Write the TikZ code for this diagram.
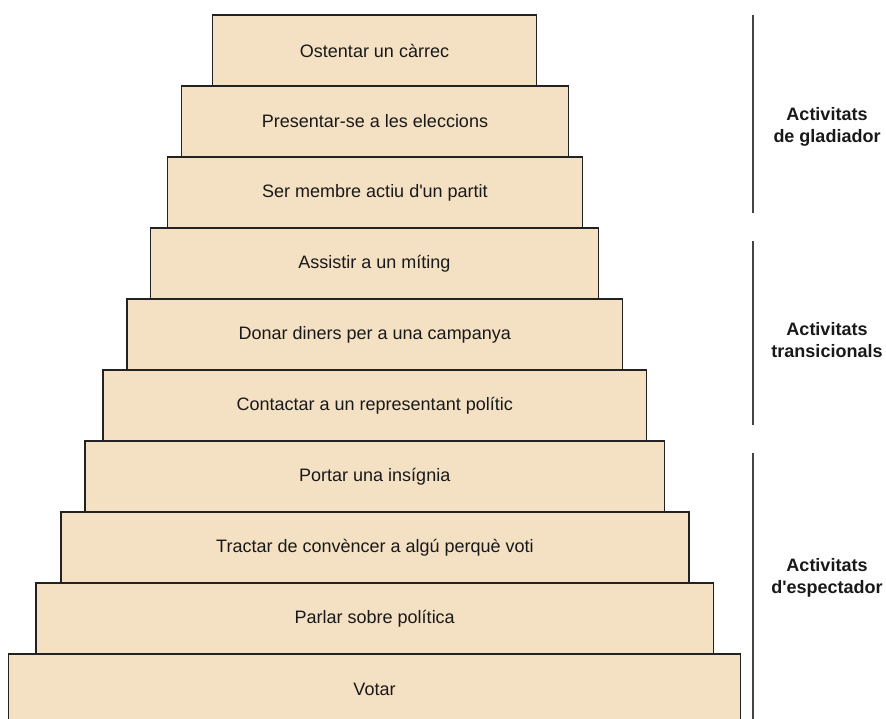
\documentclass[tikz,border=0pt]{standalone}
\usepackage{fontspec}
\setmainfont{Liberation Sans}
\definecolor{stepfill}{RGB}{244,224,195}
\definecolor{stepline}{RGB}{34,34,34}
\definecolor{brline}{RGB}{68,68,68}
\begin{document}
\begin{tikzpicture}[x=1pt,y=-1pt,
  stepbox/.style={draw=stepline,line width=1.2pt,fill=stepfill,rectangle,inner sep=0pt,
    minimum height=71pt,font=\fontsize{18}{21.6}\selectfont,text=black!90},
  grouplabel/.style={align=center,font=\bfseries\fontsize{18}{22}\selectfont,text=black!90},
  bracket/.style={draw=brline,line width=1.4pt}]
\useasboundingbox (0,0) rectangle (886,718);
\clip (0,0) rectangle (886,718);
\node[stepbox,minimum width=324pt] (b1) at (374.5,50.5) {Ostentar un càrrec};
\node[stepbox,minimum width=387pt] (b2) at (375,121.5) {Presentar-se a les eleccions};
\node[stepbox,minimum width=415pt] (b3) at (375,192.5) {Ser membre actiu d\textquotesingle un partit};
\node[stepbox,minimum width=448pt] (b4) at (374.5,263.5) {Assistir a un míting};
\node[stepbox,minimum width=495.5pt] (b5) at (374.75,334.5) {Donar diners per a una campanya};
\node[stepbox,minimum width=543.5pt] (b6) at (374.75,405.5) {Contactar a un representant polític};
\node[stepbox,minimum width=579.5pt] (b7) at (374.75,476.5) {Portar una insígnia};
\node[stepbox,minimum width=628pt] (b8) at (375,547.5) {Tractar de convèncer a algú perquè voti};
\node[stepbox,minimum width=677.5pt] (b9) at (374.75,618.5) {Parlar sobre política};
\node[stepbox,minimum width=732pt] (b10) at (374.5,689.5) {Votar};
\coordinate (g1) at (753,15);
\coordinate (g2) at (753,213);
\coordinate (t1) at (753,241);
\coordinate (t2) at (753,425);
\coordinate (e1) at (753,453);
\coordinate (e2) at (753,722);
\draw[bracket] (g1) -- (g2);
\draw[bracket] (t1) -- (t2);
\draw[bracket] (e1) -- (e2);
\node[grouplabel] (lg) at (827,127) {Activitats\\de gladiador};
\node[grouplabel] (lt) at (827,340) {Activitats\\transicionals};
\node[grouplabel] (le) at (827,578) {Activitats\\d\textquotesingle espectador};
\end{tikzpicture}
\end{document}
